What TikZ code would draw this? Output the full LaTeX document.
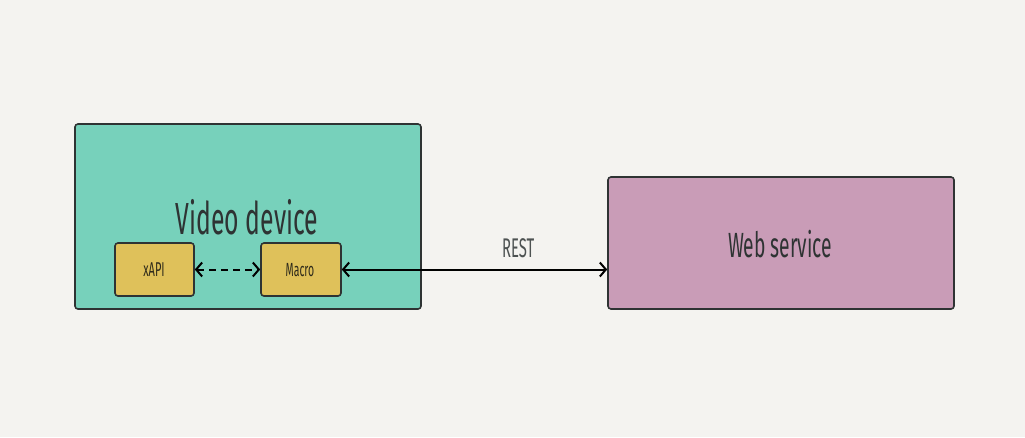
\documentclass[tikz,border=0pt]{standalone}
\usepackage{fontspec}
\usepackage{tikz}
\usetikzlibrary{arrows.meta}
\setmainfont{Fira Sans}[FakeStretch=0.55]

\definecolor{paper}{HTML}{F4F3F0}
\definecolor{teal}{HTML}{77D1BB}
\definecolor{mustard}{HTML}{DFC15A}
\definecolor{mauve}{HTML}{C99CB7}
\definecolor{ink}{HTML}{2E3333}

\tikzset{
	box/.style={draw=ink, line width=1.6pt, rounded corners=3pt, inner sep=0pt},
	lbl/.style={inner sep=0pt, text=ink},
	link/.style={line width=2pt, {Straight Barb[length=6pt,width=14pt]}-{Straight Barb[length=6pt,width=14pt]}}
}

\begin{document}
\begin{tikzpicture}[x=1pt,y=-1pt]
		% 背景
		\fill[paper] (0,0) rectangle (1025,437);
		\useasboundingbox (0,0) rectangle (1025,437);
		% 绘制方框
		\node[box, fill=teal, minimum width=346pt, minimum height=185pt] (video) at (248,216.5) {};
		\node[box, fill=mustard, minimum width=79pt, minimum height=53pt] (xapi) at (154.5,269.5) {};
		\node[box, fill=mustard, minimum width=80pt, minimum height=53pt] (macro) at (301,269.5) {};
		\node[box, fill=mauve, minimum width=346pt, minimum height=132pt] (web) at (781,243) {};
		% 绘制文字
		\node[lbl, font=\fontsize{45}{50}\selectfont] (videotext) at (247,217) {Video device};
		\node[lbl, font=\fontsize{20}{24}\selectfont, text=ink!60!mustard!40!black] (xapitext) at (154,270) {xAPI};
		\node[lbl, font=\fontsize{19}{24}\selectfont, text=ink!60!mustard!40!black] (macrotext) at (300,270) {Macro};
		\node[lbl, font=\fontsize{35}{40}\selectfont] (webtext) at (780,244) {Web service};
		% 绘制连线
		\draw[link, dashed, dash pattern=on 7pt off 5pt] (xapi) -- (macro);
		\draw[link] (macro.east) -- (macro.east -| web.west) node[lbl, pos=0.665, above=11pt, font=\fontsize{27}{30}\selectfont, text=ink!85] (rest) {REST};
	\end{tikzpicture}
\end{document}
